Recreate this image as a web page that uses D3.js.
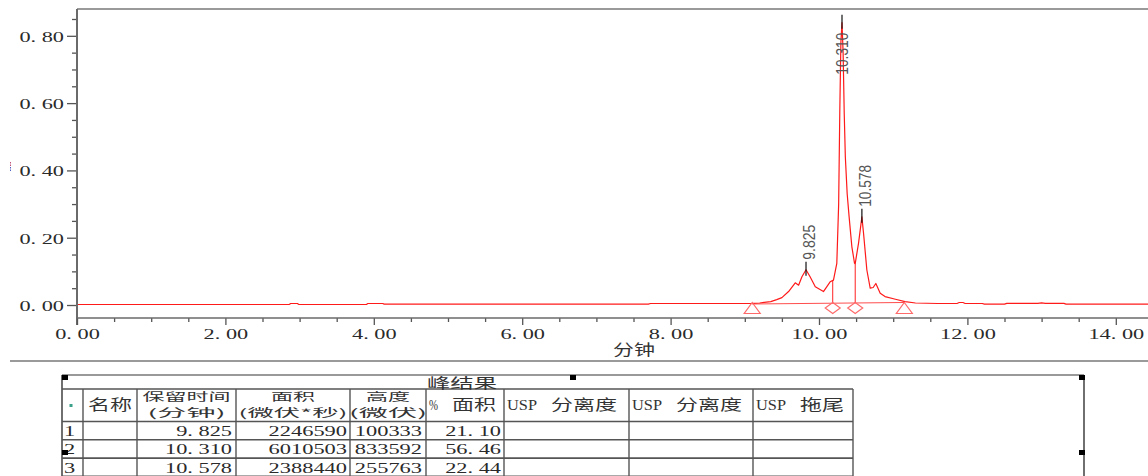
<!DOCTYPE html>
<html>
<head>
<meta charset="utf-8">
<script src="https://cdn.jsdelivr.net/npm/d3@7"></script>
<style>
  html, body { margin: 0; padding: 0; background: #fff; }
  svg { display: block; }
</style>
</head>
<body>
<svg id="chart" width="1148" height="476"></svg>
<script>
// Detector trace: retention time (min) and response (AU)
const traceTimes = [
  0.00, 2.86, 2.88, 2.97, 2.99, 3.90, 3.92, 4.12, 4.14, 7.70, 7.73, 9.00,
  9.10, 9.20, 9.35, 9.43, 9.50, 9.59, 9.68, 9.725, 9.77, 9.825, 9.88, 9.95,
  10.06, 10.15, 10.195, 10.24, 10.265, 10.28, 10.295, 10.31, 10.325, 10.34, 10.355, 10.38,
  10.406, 10.443, 10.479, 10.488, 10.533, 10.578, 10.60, 10.645, 10.69, 10.73, 10.766, 10.825,
  10.89, 11.03, 11.16, 11.30, 11.60, 11.86, 11.89, 11.94, 11.97, 12.20, 12.23, 12.50,
  12.53, 12.95, 13.00, 13.05, 13.30, 13.33, 14.44
];
const traceValues = [
  0.0015, 0.0015, 0.0045, 0.0045, 0.0015, 0.0015, 0.0045, 0.0045, 0.0025, 0.0025, 0.0045, 0.0045,
  0.0048, 0.0060, 0.0100, 0.0160, 0.0220, 0.0400, 0.0660, 0.0590, 0.0840, 0.1050, 0.0840, 0.0540,
  0.0400, 0.0690, 0.0740, 0.1240, 0.3000, 0.5700, 0.7800, 0.8390, 0.7500, 0.5700, 0.4400, 0.3300,
  0.2620, 0.1730, 0.1240, 0.1230, 0.1840, 0.2620, 0.2140, 0.1040, 0.0500, 0.0520, 0.0640, 0.0350,
  0.0250, 0.0170, 0.0100, 0.0060, 0.0045, 0.0045, 0.0075, 0.0075, 0.0045, 0.0045, 0.0025, 0.0025,
  0.0050, 0.0050, 0.0065, 0.0050, 0.0050, 0.0025, 0.0025
];

// Axis ticks
const yTickValues = [0, 0.2, 0.4, 0.6, 0.8];
const yTickLabels = ["0. 00", "0. 20", "0. 40", "0. 60", "0. 80"];
const xTickValues = [0, 2, 4, 6, 8, 10, 12, 14];
const xTickLabels = ["0. 00", "2. 00", "4. 00", "6. 00", "8. 00", "10. 00", "12. 00", "14. 00"];
const xAxisTitle = "分钟";

// Integrated peaks
const peakNumbers = [1, 2, 3];
const peakTimes = [9.825, 10.310, 10.578];
const peakLabels = ["9.825", "10.310", "10.578"];
const peakAreas = [2246590, 6010503, 2388440];
const peakHeights = [100333, 833592, 255763];
const peakAreaPercents = [21.10, 56.46, 22.44];

// Integration events: baseline start/end and perpendicular drops
const baselineTimes = [9.10, 11.15];
const baselineValues = [0.003, 0.0075];
const dropTimes = [10.185, 10.488];

// Results table
const tableTitle = "峰结果";
// each header cell: lines, each line a list of [text, face] runs
const tableHeaders = [
  [],
  [[["名称", "cjk"]]],
  [[["保留时间", "cjk"]], [["(分钟)", "cjk"]]],
  [[["面积", "cjk"]], [["(微伏*秒)", "cjk"]]],
  [[["高度", "cjk"]], [["(微伏)", "cjk"]]],
  [[["%", "num"], ["面积", "cjk"]]],
  [[["USP", "num"], ["分离度", "cjk"]]],
  [[["USP", "num"], ["分离度", "cjk"]]],
  [[["USP", "num"], ["拖尾", "cjk"]]]
];

// ---------------------------------------------------------------------------
const svg = d3.select("#chart");
const W = 1148;
const plot = { left: 77, right: 1148, top: 9, bottom: 318 };

const x = d3.scaleLinear().domain([0, 14.434]).range([plot.left, plot.right]);
const y = d3.scaleLinear().domain([-0.0386, 0.8797]).range([plot.bottom, plot.top]);

const numFont = "'Liberation Serif', 'DejaVu Serif', serif";
const cjkFont = "'Noto Sans CJK SC', 'Noto Sans', sans-serif";
const numColor = "#2a2a2a";

// Width of a numeric string in the wide numeric face
function numWidth(s) {
  let w = 0;
  for (const ch of s) {
    if (ch === "." || ch === " ") w += 5.5;
    else w += 11.2;
  }
  return w;
}

// linear lookup on the trace
function traceAt(t) {
  const i = d3.bisectLeft(traceTimes, t);
  if (i <= 0) return traceValues[0];
  if (i >= traceTimes.length) return traceValues[traceValues.length - 1];
  const t0 = traceTimes[i - 1], t1 = traceTimes[i];
  const v0 = traceValues[i - 1], v1 = traceValues[i];
  return v0 + (v1 - v0) * (t - t0) / (t1 - t0);
}
const baseline = d3.scaleLinear().domain(baselineTimes).range(baselineValues);

// Top frame
svg.append("line")
  .attr("x1", plot.left).attr("x2", plot.right)
  .attr("y1", plot.top).attr("y2", plot.top)
  .attr("stroke", "#9a9a9a").attr("stroke-width", 2);

// Y axis: major and minor ticks
const yMinor = d3.range(0.05, 0.86, 0.05).filter(v => Math.abs(v / 0.2 - Math.round(v / 0.2)) > 1e-6);
const yMinorG = svg.append("g").attr("transform", `translate(${plot.left},0)`)
  .call(d3.axisLeft(y).tickValues(yMinor).tickSize(5).tickSizeOuter(0).tickFormat(""));
const yAxisG = svg.append("g").attr("transform", `translate(${plot.left},0)`)
  .call(d3.axisLeft(y).tickValues(yTickValues).tickSize(10).tickSizeOuter(0).tickPadding(3)
    .tickFormat((d, i) => yTickLabels[i]));
[yMinorG, yAxisG].forEach(g => {
  g.select(".domain").remove();
  g.selectAll(".tick line").attr("stroke", "#555").attr("stroke-width", 1.3);
});
yAxisG.selectAll(".tick text")
  .attr("font-family", numFont).attr("font-size", 15).attr("fill", numColor)
  .attr("dy", "0.36em")
  .attr("textLength", d => numWidth(yTickLabels[yTickValues.indexOf(d)]))
  .attr("lengthAdjust", "spacingAndGlyphs");
svg.append("line")
  .attr("x1", plot.left).attr("x2", plot.left)
  .attr("y1", plot.top).attr("y2", plot.bottom + 7)
  .attr("stroke", "#6a6a6a").attr("stroke-width", 2);

// X axis
const xMinor = d3.range(0.5, 14.5, 0.5).filter(v => v % 2 !== 0);
const xMinorG = svg.append("g").attr("transform", `translate(0,${plot.bottom})`)
  .call(d3.axisBottom(x).tickValues(xMinor).tickSize(4).tickSizeOuter(0).tickFormat(""));
const xAxisG = svg.append("g").attr("transform", `translate(0,${plot.bottom})`)
  .call(d3.axisBottom(x).tickValues(xTickValues).tickSize(7).tickSizeOuter(0).tickPadding(4)
    .tickFormat((d, i) => xTickLabels[i]));
[xMinorG, xAxisG].forEach(g => {
  g.select(".domain").remove();
  g.selectAll(".tick line").attr("stroke", "#555").attr("stroke-width", 1.3);
});
xAxisG.selectAll(".tick text")
  .attr("font-family", numFont).attr("font-size", 15).attr("fill", numColor)
  .attr("dy", "0.66em")
  .attr("textLength", d => numWidth(xTickLabels[xTickValues.indexOf(d)]))
  .attr("lengthAdjust", "spacingAndGlyphs");
svg.append("line")
  .attr("x1", plot.left).attr("x2", plot.right)
  .attr("y1", plot.bottom).attr("y2", plot.bottom)
  .attr("stroke", "#6a6a6a").attr("stroke-width", 1.6);

svg.append("text")
  .attr("x", 613).attr("y", 355)
  .attr("font-family", cjkFont).attr("font-size", 15).attr("fill", "#333")
  .attr("textLength", 42).attr("lengthAdjust", "spacingAndGlyphs")
  .text(xAxisTitle);

// clipped y-axis title stub at the far left
svg.append("line").attr("x1", 10.5).attr("x2", 10.5).attr("y1", 162).attr("y2", 167)
  .attr("stroke", "#c0507a").attr("stroke-width", 1).attr("stroke-dasharray", "1.5,1");
svg.append("line").attr("x1", 10.5).attr("x2", 10.5).attr("y1", 167).attr("y2", 172)
  .attr("stroke", "#5060c0").attr("stroke-width", 1).attr("stroke-dasharray", "1.5,1");

// Plot contents
svg.append("clipPath").attr("id", "plotClip").append("rect")
  .attr("x", plot.left + 1).attr("y", plot.top + 1)
  .attr("width", plot.right - plot.left).attr("height", plot.bottom - plot.top - 1);
const pg = svg.append("g").attr("clip-path", "url(#plotClip)");

// integration baseline
pg.append("line")
  .attr("x1", x(baselineTimes[0])).attr("y1", y(baselineValues[0]))
  .attr("x2", x(baselineTimes[1])).attr("y2", y(baselineValues[1]))
  .attr("stroke", "#ff4d4d").attr("stroke-width", 1);

// drop lines
dropTimes.forEach(t => {
  pg.append("line")
    .attr("x1", x(t)).attr("x2", x(t))
    .attr("y1", y(baseline(t))).attr("y2", y(traceAt(t)))
    .attr("stroke", "#ff2020").attr("stroke-width", 1);
});

// trace
const line = d3.line().x((d, i) => x(traceTimes[i])).y(d => y(d));
pg.append("path")
  .attr("d", line(traceValues))
  .attr("fill", "none").attr("stroke", "#ff1a1a").attr("stroke-width", 1.2)
  .attr("stroke-linejoin", "round");

// apex marks and retention-time labels
peakTimes.forEach((t, i) => {
  const px = x(t), py = y(traceAt(t));
  pg.append("line")
    .attr("x1", px).attr("x2", px).attr("y1", py - 8).attr("y2", py + 6)
    .attr("stroke", "#111").attr("stroke-width", 1.2);
  const L = peakLabels[i].length * 7;
  let yb = py - 10;
  let dx = 3;
  if (yb - L < plot.top + 4) { yb = py + 10 + L; dx = 0; }
  pg.append("text")
    .attr("transform", `translate(${px + dx},${yb}) rotate(-90)`)
    .attr("dy", "0.35em")
    .attr("font-family", "'Liberation Sans Narrow', 'Liberation Sans', 'DejaVu Sans', sans-serif")
    .attr("font-size", 17).attr("fill", "#555")
    .attr("textLength", L).attr("lengthAdjust", "spacingAndGlyphs")
    .text(peakLabels[i]);
});

// event markers: triangles at baseline start/end, diamonds at drops
const markerColor = "#ff6a6a";
const markerY = plot.bottom - 10;
baselineTimes.forEach(t => {
  const cx = x(t);
  svg.append("path")
    .attr("d", `M${cx},${markerY - 5.5} L${cx + 8},${markerY + 5.5} L${cx - 8},${markerY + 5.5} Z`)
    .attr("fill", "none").attr("stroke", markerColor).attr("stroke-width", 1.2);
});
dropTimes.forEach(t => {
  const cx = x(t);
  svg.append("path")
    .attr("d", `M${cx},${markerY - 5.5} L${cx + 7.5},${markerY} L${cx},${markerY + 5.5} L${cx - 7.5},${markerY} Z`)
    .attr("fill", "none").attr("stroke", markerColor).attr("stroke-width", 1.2);
});

// Separator under the chart
svg.append("line").attr("x1", 10).attr("x2", W).attr("y1", 361).attr("y2", 361)
  .attr("stroke", "#9a9a9a").attr("stroke-width", 2);

// ---------------------------------------------------------------------------
// Results table
const tb = { left: 62, right: 1084, top: 375, headTop: 389, headBottom: 421.5, rowH: 18.3 };
const colX = [62, 83, 137, 236, 350, 426, 504, 629, 753, 853];
const gridRight = colX[colX.length - 1];
const tg = svg.append("g");
const gridColor = "#555";

tg.append("line").attr("x1", tb.left).attr("x2", tb.right).attr("y1", tb.top).attr("y2", tb.top)
  .attr("stroke", "#777").attr("stroke-width", 1.4);
tg.append("line").attr("x1", tb.left).attr("x2", tb.left).attr("y1", tb.top).attr("y2", 476)
  .attr("stroke", "#333").attr("stroke-width", 1.4);
tg.append("line").attr("x1", tb.right).attr("x2", tb.right).attr("y1", tb.top).attr("y2", 476)
  .attr("stroke", "#333").attr("stroke-width", 1.4);

const rowLines = [tb.headTop, tb.headBottom];
peakNumbers.forEach((n, i) => rowLines.push(tb.headBottom + tb.rowH * (i + 1)));
rowLines.forEach(yy => {
  tg.append("line").attr("x1", tb.left).attr("x2", gridRight).attr("y1", yy).attr("y2", yy)
    .attr("stroke", gridColor).attr("stroke-width", 1.6);
});
colX.slice(1).forEach(xx => {
  tg.append("line").attr("x1", xx).attr("x2", xx).attr("y1", tb.headTop).attr("y2", 476)
    .attr("stroke", gridColor).attr("stroke-width", 1.4);
});

// title
tg.append("text").attr("x", 427).attr("y", 387.5)
  .attr("font-family", cjkFont).attr("font-size", 14).attr("fill", "#333")
  .attr("textLength", 70).attr("lengthAdjust", "spacingAndGlyphs")
  .text(tableTitle);

// header cells: width of each run, stretched like the numeric face
function runWidth(text, face) {
  let w = 0;
  for (const ch of text) {
    if (face === "num") w += (ch === "%" ? 9 : 10);
    else if (ch === "(" || ch === ")") w += 17;
    else if (ch === "*") w += 9;
    else w += 22;
  }
  return w;
}
const runGap = 14;
tableHeaders.forEach((lines, ci) => {
  const cellL = colX[ci], cellR = colX[ci + 1];
  const cx = (cellL + cellR) / 2;
  lines.forEach((runs, li) => {
    const yy = lines.length === 1 ? 410 : (li === 0 ? 400.5 : 416.5);
    const fs = lines.length === 1 ? 14.5 : 11;
    const hasLead = runs.length > 1;
    const widths = runs.map(([t, f]) => runWidth(t, f));
    let xx = hasLead ? cellL + 3 : cx - widths[0] / 2;
    runs.forEach(([t, f], ri) => {
      tg.append("text").attr("x", xx).attr("y", yy)
        .attr("font-family", f === "num" ? numFont : cjkFont)
        .attr("font-size", f === "num" ? 15 : fs).attr("fill", "#333")
        .attr("textLength", widths[ri]).attr("lengthAdjust", "spacingAndGlyphs")
        .text(t);
      xx += widths[ri] + runGap;
    });
  });
});
tg.append("rect").attr("x", 69.5).attr("y", 404).attr("width", 3).attr("height", 3)
  .attr("fill", "#3aa08a");

// data rows
const fmtTime = t => d3.format(".3f")(t).replace(".", ". ");
const fmtPct = p => d3.format(".2f")(p).replace(".", ". ");
peakNumbers.forEach((n, i) => {
  const yy = tb.headBottom + tb.rowH * i + tb.rowH / 2 + 5.5;
  const cells = [
    { text: String(n), x: 64, anchor: "start" },
    { text: fmtTime(peakTimes[i]), x: colX[3] - 4, anchor: "end" },
    { text: String(peakAreas[i]), x: colX[4] - 3, anchor: "end" },
    { text: String(peakHeights[i]), x: colX[5] - 4, anchor: "end" },
    { text: fmtPct(peakAreaPercents[i]), x: colX[6] - 3, anchor: "end" }
  ];
  cells.forEach(c => {
    tg.append("text").attr("x", c.x).attr("y", yy)
      .attr("text-anchor", c.anchor)
      .attr("font-family", numFont).attr("font-size", 15).attr("fill", numColor)
      .attr("textLength", numWidth(c.text)).attr("lengthAdjust", "spacingAndGlyphs")
      .text(c.text);
  });
});

// selection handles on the table frame
const handles = [[62, 375], [570, 375], [1079, 375], [62, 450], [1079, 450]];
handles.forEach(([hx, hy]) => {
  tg.append("rect").attr("x", hx).attr("y", hy).attr("width", 6).attr("height", 5).attr("fill", "#000");
});
</script>
</body>
</html>
